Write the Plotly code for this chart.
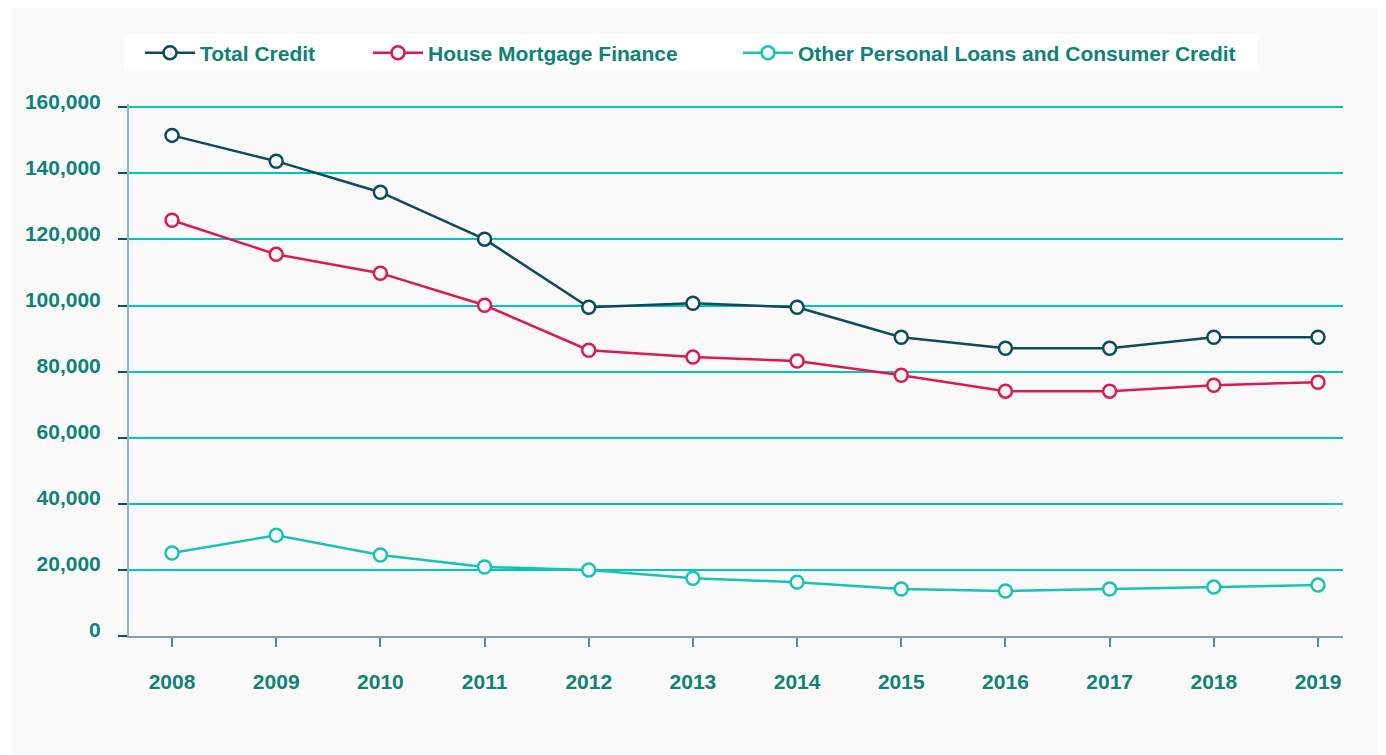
import plotly.graph_objects as go

years = [2008, 2009, 2010, 2011, 2012, 2013, 2014, 2015, 2016, 2017, 2018, 2019]
total_credit = [151500, 143700, 134300, 120100, 99500, 100700, 99500, 90400, 87100, 87100, 90400, 90400]
house_mortgage = [125800, 115500, 109800, 100100, 86500, 84400, 83200, 78900, 74100, 74100, 75900, 76800]
other_personal = [25100, 30500, 24500, 20900, 20000, 17500, 16300, 14200, 13600, 14200, 14800, 15400]
y_ticks = [0, 20000, 40000, 60000, 80000, 100000, 120000, 140000, 160000]

names = ["Total Credit", "House Mortgage Finance", "Other Personal Loans and Consumer Credit"]
colors = ["#0d4a5c", "#dc1a50", "#17c4b4"]
series = [total_credit, house_mortgage, other_personal]

TEXT = "#0f8278"
BG = "#f9f9f9"
GRID = "#00c8b8"
FONT = "Liberation Sans, Arial, sans-serif"

OFF = 8  # page body margin
Y_TOP = 161000  # small headroom so the 160,000 gridline is drawn
W, H = 1386 - OFF, 755 - OFF
B = H - (636 - OFF)
ph = round((636 - 107) * Y_TOP / 160000)
T = H - B - ph
L = 129 - OFF
R = W - (1343 - OFF)
pw = W - L - R

fig = go.Figure()
legend_ids = ["legend", "legend2", "legend3"]
for name, col, vals, lg in zip(names, colors, series, legend_ids):
    fig.add_trace(go.Scatter(
        x=years, y=vals, name=name, mode="lines+markers",
        line=dict(color=col, width=2.5),
        marker=dict(size=13, color=BG, line=dict(color=col, width=2.5)),
        legend=lg,
    ))

def px_x(p):
    return (p - OFF - L) / pw

def px_y(p):
    return (H - B - (p - OFF)) / ph

# legend item positions (page px)
leg_x = [140, 368, 738]
legend_common = dict(
    orientation="h", bgcolor="rgba(0,0,0,0)", yanchor="middle", xanchor="left",
    font=dict(family=FONT, size=21, color=TEXT, weight="bold"),
    itemwidth=50,
)
layout_legends = {}
for lg, lx in zip(legend_ids, leg_x):
    layout_legends[lg] = dict(legend_common, x=px_x(lx), y=px_y(53))

fig.update_layout(
    template="none",
    width=W, height=H,
    margin=dict(l=L, r=R, t=T, b=B, pad=0),
    paper_bgcolor=BG,
    plot_bgcolor=BG,
    showlegend=True,
    font=dict(family=FONT, color=TEXT),
    xaxis=dict(
        range=[2007.587, 2019.24],
        tickvals=years, ticktext=[str(y) for y in years],
        showgrid=False, zeroline=False,
        showline=True, linecolor="#7fa3b0", linewidth=2,
        ticks="outside", ticklen=9, tickwidth=1.5, tickcolor="#5e8797",
        tickfont=dict(family=FONT, size=21, color=TEXT, weight="bold"),
        ticklabelstandoff=17,
    ),
    yaxis=dict(
        range=[0, Y_TOP],
        tickvals=y_ticks, tickformat=",d",
        showgrid=True, gridcolor=GRID, gridwidth=1.5,
        zeroline=False,
        showline=True, linecolor="#8fb3c0", linewidth=2,
        ticks="outside", ticklen=9, tickwidth=1.5, tickcolor="#1f4a5a",
        tickfont=dict(family=FONT, size=21, color=TEXT, weight="bold"),
        ticklabelstandoff=13, ticklabelshift=-6,
    ),
    shapes=[
        dict(type="rect", xref="paper", yref="paper", layer="below",
             x0=px_x(0), x1=px_x(12), y0=px_y(H + 20), y1=px_y(0),
             fillcolor="white", line=dict(width=0)),
        dict(type="rect", xref="paper", yref="paper", layer="below",
             x0=px_x(124), x1=px_x(1258), y0=px_y(71), y1=px_y(34),
             fillcolor="white", line=dict(width=0)),
    ],
    **layout_legends,
)

fig.write_html("out.html")
